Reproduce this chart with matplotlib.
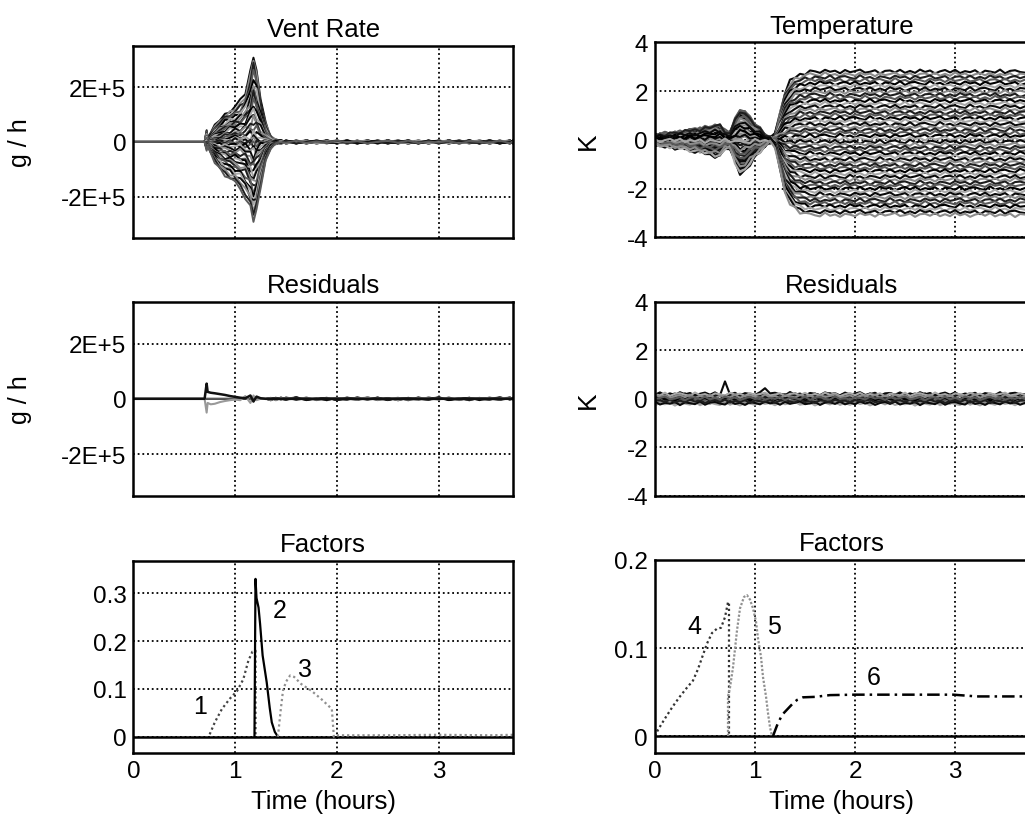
import numpy as np
import matplotlib.pyplot as plt

plt.rcParams['font.family'] = ['Liberation Sans', 'DejaVu Sans']

# ---- data ----
# vent rate ensemble (g/h, in units of 1E+5)
vent_time = [0.00, 0.70, 0.72, 0.73, 0.76, 0.80, 0.85, 0.90, 0.95, 1.00,
             1.05, 1.10, 1.15, 1.18, 1.21, 1.25, 1.30, 1.35, 1.40, 1.45,
             1.5, 1.6, 1.7, 1.8, 1.9, 2.0, 2.1, 2.2, 2.3, 2.4, 2.5, 2.6,
             2.7, 2.8, 2.9, 3.0, 3.1, 3.2, 3.3, 3.4, 3.5, 3.6, 3.7, 3.73]
vent_upper = [0, 0, 0.45, 0.15, 0.35, 0.6, 0.8, 1.0, 1.15, 1.3,
              1.5, 1.8, 2.5, 3.25, 2.6, 1.6, 0.7, 0.2, 0.06, 0.04] + [0.0] * 24
vent_lower = [0, 0, 0.3, 0.15, 0.4, 0.75, 1.0, 1.2, 1.35, 1.5,
              1.7, 2.0, 2.5, 2.85, 2.5, 1.6, 0.7, 0.2, 0.06, 0.04] + [0.0] * 24
vent_tail = [0.0] * 17 + [1.0] * 27
vent_members = [1.0, 0.93, 0.86, 0.8, 0.74, 0.68, 0.62, 0.57, 0.52, 0.47,
                0.42, 0.37, 0.32, 0.27, 0.22, 0.17, 0.12, 0.08, 0.04, 0.01,
                -0.01, -0.04, -0.08, -0.12, -0.17, -0.22, -0.27, -0.32, -0.37, -0.42,
                -0.47, -0.52, -0.57, -0.62, -0.68, -0.74, -0.8, -0.86, -0.93, -1.0]
vres_black = [0, 0, 0.55, 0.25, 0.22, 0.2, 0.17, 0.14, 0.1, 0.07,
              0.04, 0.02, 0.12, -0.1, 0.08, 0.02, 0, 0, 0, 0] + [0.0] * 24
vres_gray = [0, 0, -0.5, -0.15, -0.2, -0.18, -0.12, -0.08, -0.05, -0.03,
             -0.05, 0.1, -0.15, 0.12, -0.05, 0, 0, 0, 0, 0] + [0.0] * 24

# temperature ensemble (K)
temp_time = [0.00, 0.05, 0.10, 0.15, 0.20, 0.25, 0.30, 0.35, 0.40, 0.45,
             0.50, 0.55, 0.60, 0.65, 0.70, 0.75, 0.80, 0.85, 0.90, 0.95,
             1.00, 1.05, 1.10, 1.15, 1.20, 1.25, 1.30, 1.35, 1.40, 1.45,
             1.50, 1.55, 1.60, 1.65, 1.70, 1.75, 1.80, 1.85, 1.90, 1.95,
             2.00, 2.05, 2.10, 2.15, 2.20, 2.25, 2.30, 2.35, 2.40, 2.45,
             2.50, 2.55, 2.60, 2.65, 2.70, 2.75, 2.80, 2.85, 2.90, 2.95,
             3.00, 3.05, 3.10, 3.15, 3.20, 3.25, 3.30, 3.35, 3.40, 3.45,
             3.50, 3.55, 3.60, 3.65, 3.73]
temp_early = [0.2, 0.22, 0.25, 0.28, 0.3, 0.33, 0.36, 0.4, 0.43, 0.46,
              0.5, 0.55, 0.6, 0.6, 0.35, 0.3, 0.85, 1.3, 1.15, 0.9,
              0.65, 0.45, 0.25, 0.1] + [0.0] * 51
temp_late = [0.0] * 24 + [0.08, 0.4, 0.7, 0.85, 0.92, 0.96, 0.98] + [1.0] * 44
temp_final = [2.8, 2.68, 2.56, 2.44, 2.32, 2.2, 2.08, 1.96, 1.84, 1.72,
              1.6, 1.48, 1.36, 1.24, 1.12, 1.0, 0.88, 0.76, 0.64, 0.52,
              0.4, 0.28, 0.16, 0.04, -0.08, -0.2, -0.32, -0.44, -0.56, -0.68,
              -0.8, -0.92, -1.04, -1.16, -1.28, -1.4, -1.52, -1.64, -1.76, -1.88,
              -2.0, -2.12, -2.24, -2.36, -2.48, -2.6, -2.72, -2.84, -2.96, -3.08]
temp_start = [0.4, -0.8, 0.9, -0.2, 0.1, -1.0, 0.7, -0.5, 0.3, -0.9,
              0.8, 0.0, -0.6, 0.5, -0.3, 1.0, -0.7, 0.2, -1.1, 0.6,
              -0.4, 0.85, -0.1, 0.35, -0.85, 0.15, -0.55, 0.95, -0.25, 0.55,
              -0.95, 0.05, -0.65, 0.75, -0.35, 0.25, -0.75, 0.65, -0.15, -0.45,
              0.45, -1.05, 0.12, -0.32, 0.92, -0.62, 0.28, -0.08, 0.58, -0.88]
tres_members = [1.0, -0.8, 0.6, -0.4, 0.2, -1.0, 0.8, -0.6, 0.4, -0.2,
                0.0, 0.9, -0.9, 0.5, -0.5, 0.1]
tres_spike = [0.0] * 14 + [0.5] + [0.0] * 7 + [0.3] + [0.0] * 52

# hand-read jitter pattern shared by the ensembles
wiggle = [0.3, -0.6, 0.9, -0.2, 0.5, -0.9, 0.1, 0.7, -0.4, 0.8, -0.7, 0.2,
          -0.3, 0.6, -1.0, 0.4, 0.0, -0.5, 0.9, -0.8, 0.3, 0.6, -0.2, -0.7,
          1.0, -0.4, 0.2, -0.9, 0.5, 0.1, -0.6, 0.8, -0.1, 0.4, -0.8, 0.7,
          -0.3, 0.2, 0.9, -0.5, -0.1, 0.6, -0.9, 0.3, 0.5, -0.4, 0.8, -0.6]

# factors
f1_time = [0.75, 0.80, 0.87, 0.95, 1.02, 1.08, 1.13, 1.17, 1.20, 1.20]
f1_val = [0.005, 0.03, 0.058, 0.08, 0.096, 0.12, 0.159, 0.178, 0.18, 0.0]
f2_time = [1.19, 1.20, 1.21, 1.23, 1.245, 1.27, 1.31, 1.34, 1.36, 1.39, 1.42]
f2_val = [0.0, 0.33, 0.29, 0.27, 0.236, 0.17, 0.114, 0.06, 0.03, 0.01, 0.0]
f3_time = [1.42, 1.45, 1.47, 1.50, 1.54, 1.58, 1.65, 1.75, 1.85, 1.95, 1.97,
           2.0, 2.5, 3.0, 3.5, 3.73]
f3_val = [0.0, 0.06, 0.096, 0.115, 0.128, 0.125, 0.11, 0.096, 0.078, 0.058,
          0.0, 0.003, 0.003, 0.004, 0.003, 0.004]
f4_time = [0.0, 0.03, 0.1, 0.18, 0.25, 0.32, 0.38, 0.43, 0.47, 0.52, 0.57,
           0.62, 0.66, 0.70, 0.73, 0.74, 0.74]
f4_val = [0.0, 0.007, 0.02, 0.034, 0.045, 0.055, 0.063, 0.076, 0.089, 0.105,
          0.117, 0.122, 0.123, 0.135, 0.152, 0.152, 0.0]
f5_time = [0.73, 0.73, 0.75, 0.78, 0.82, 0.85, 0.89, 0.92, 0.95, 0.98, 1.01,
           1.03, 1.06, 1.08, 1.11, 1.13, 1.15, 1.17]
f5_val = [0.0, 0.045, 0.055, 0.078, 0.12, 0.145, 0.158, 0.16, 0.155, 0.145,
          0.13, 0.111, 0.09, 0.067, 0.045, 0.026, 0.01, 0.0]
f6_time = [1.18, 1.22, 1.27, 1.32, 1.37, 1.42, 1.48, 1.6, 1.75, 2.0, 2.5,
           2.98, 3.1, 3.22, 3.5, 3.73]
f6_val = [0.0, 0.012, 0.024, 0.03, 0.036, 0.041, 0.044, 0.0445, 0.0465,
          0.047, 0.047, 0.047, 0.046, 0.045, 0.045, 0.045]

shades = ['#0a0a0a', '#8c8c8c', '#1e1e1e', '#5a5a5a', '#000000', '#a8a8a8']


def jitter(i, n):
    return np.resize(np.roll(wiggle, 7 * i + 3), n)


def style(ax, ylim, yticks, yticklabels, xlabels=False):
    ax.set_xlim(0, 3.73)
    ax.set_ylim(*ylim)
    ax.set_xticks([0, 1, 2, 3])
    ax.set_yticks(yticks)
    ax.set_yticklabels(yticklabels)
    if not xlabels:
        ax.set_xticklabels([])
    ax.grid(True, color='black', linestyle=(0, (1, 1.6)), linewidth=1.3)
    ax.tick_params(length=0, labelsize=17.5, pad=5)
    for s in ax.spines.values():
        s.set_linewidth(1.8)
    ax.set_axisbelow(True)


fig = plt.figure(figsize=(10.25, 8.28), dpi=100)
lw_, rw_ = 0.3704, 0.364
ax_vr = fig.add_axes([0.1301, 0.7114, lw_, 0.2319])
ax_vres = fig.add_axes([0.1301, 0.3998, lw_, 0.2347])
ax_vf = fig.add_axes([0.1301, 0.0894, lw_, 0.2322])
ax_t = fig.add_axes([0.639, 0.7122, rw_, 0.2355])
ax_tres = fig.add_axes([0.639, 0.3998, rw_, 0.2347])
ax_tf = fig.add_axes([0.639, 0.0890, rw_, 0.2335])

vt = np.array(vent_time)
up, lo, tail = np.array(vent_upper), np.array(vent_lower), np.array(vent_tail)

# vent rate
for i, s in enumerate(vent_members):
    env = up if s > 0 else lo
    y = s * env + 0.07 * env * jitter(i, len(vt)) + 0.06 * tail * jitter(i + 5, len(vt))
    ax_vr.plot(vt, y * 1e5, color=shades[i % 6], lw=1.4)

# vent residuals
for i in range(10):
    y = 0.06 * tail * jitter(i, len(vt))
    ax_vres.plot(vt, y * 1e5, color=shades[i % 6], lw=1.2)
ax_vres.plot(vt, np.array(vres_gray) * 1e5, color='#999999', lw=1.5)
ax_vres.plot(vt, np.array(vres_black) * 1e5, color='#111111', lw=1.8)

# temperature
tt = np.array(temp_time)
te, tl = np.array(temp_early), np.array(temp_late)
for i, (a, b) in enumerate(zip(temp_start, temp_final)):
    y = a * te + b * tl + 0.09 * jitter(i, len(tt))
    ax_t.plot(tt, y, color=shades[i % 6], lw=1.5)

# temperature residuals
for i, a in enumerate(tres_members):
    y = 0.2 * a + 0.08 * jitter(i, len(tt))
    if i == 0:
        y = y + np.array(tres_spike)
    ax_tres.plot(tt, y, color=shades[i % 6], lw=1.5)

# factors
ax_vf.axhline(0, color='black', lw=1.8)
ax_vf.plot(f1_time, f1_val, color='#444444', lw=1.6, linestyle=(0, (1, 1.3)))
ax_vf.plot(f2_time, f2_val, color='black', lw=1.6)
ax_vf.plot(f3_time, f3_val, color='#909090', lw=1.6, linestyle=(0, (1, 1.3)))
ax_vf.text(0.655, 0.065, '1', fontsize=18, ha='center', va='center')
ax_vf.text(1.44, 0.264, '2', fontsize=18, ha='center', va='center')
ax_vf.text(1.69, 0.142, '3', fontsize=18, ha='center', va='center')

ax_tf.axhline(0, color='black', lw=1.8)
ax_tf.plot(f4_time, f4_val, color='#333333', lw=1.6, linestyle=(0, (1, 1.3)))
ax_tf.plot(f5_time, f5_val, color='#909090', lw=1.6, linestyle=(0, (1, 0.8)))
ax_tf.plot(f6_time, f6_val, color='black', lw=1.8, linestyle=(0, (5, 2, 1, 2)))
ax_tf.text(0.39, 0.1245, '4', fontsize=18, ha='center', va='center')
ax_tf.text(1.19, 0.1245, '5', fontsize=18, ha='center', va='center')
ax_tf.text(2.19, 0.067, '6', fontsize=18, ha='center', va='center')

vent_ticks = [-2e5, 0, 2e5]
vent_labels = ['-2E+5', '0', '2E+5']
temp_ticks = [-4, -2, 0, 2, 4]
temp_labels = ['-4', '-2', '0', '2', '4']
style(ax_vr, (-3.52e5, 3.52e5), vent_ticks, vent_labels)
style(ax_vres, (-3.52e5, 3.52e5), vent_ticks, vent_labels)
style(ax_vf, (-0.034, 0.368), [0, 0.1, 0.2, 0.3], ['0', '0.1', '0.2', '0.3'], True)
style(ax_t, (-4, 4), temp_ticks, temp_labels)
style(ax_tres, (-4, 4), temp_ticks, temp_labels)
style(ax_tf, (-0.0196, 0.2), [0, 0.1, 0.2], ['0', '0.1', '0.2'], True)

for ax, title in [(ax_vr, 'Vent Rate'), (ax_vres, 'Residuals'), (ax_vf, 'Factors'),
                  (ax_t, 'Temperature'), (ax_tres, 'Residuals'), (ax_tf, 'Factors')]:
    ax.set_title(title, fontsize=18.5, pad=7)

for ax in (ax_vr, ax_vres):
    ax.set_ylabel('g / h', fontsize=18)
    ax.yaxis.set_label_coords(-0.267, 0.5)
for ax in (ax_t, ax_tres):
    ax.set_ylabel('K', fontsize=19)
    ax.yaxis.set_label_coords(-0.147, 0.5)
for ax in (ax_vf, ax_tf):
    ax.set_xlabel('Time (hours)', fontsize=18.5, labelpad=5)

fig.savefig('out.png', dpi=100)
